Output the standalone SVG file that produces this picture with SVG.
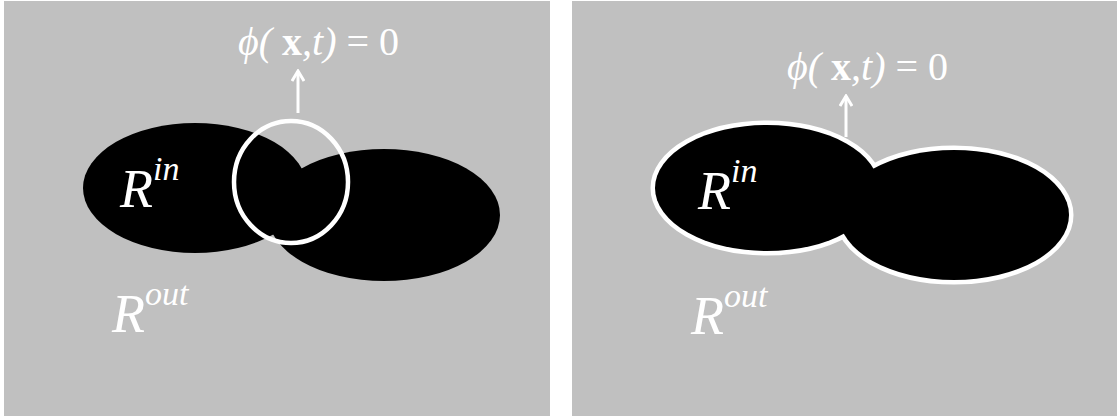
<svg xmlns="http://www.w3.org/2000/svg" width="1118" height="419" viewBox="0 0 1118 419">
<style>
.panel{fill:#c0c0c0}
.blob{fill:#000}
.t{font-family:"Liberation Serif","Times New Roman",serif;fill:#fff}
.it{font-style:italic}
.bf{font-weight:bold}
.arr{stroke:#fff;stroke-width:3;fill:none}
</style>
<defs>
<marker id="ah" markerWidth="14" markerHeight="14" refX="12" refY="7" orient="auto" markerUnits="userSpaceOnUse" viewBox="0 0 14 14">
<path d="M2,1 L12,7 L2,13" fill="none" stroke="#fff" stroke-width="3"/>
</marker>
</defs>
<rect x="0" y="0" width="1118" height="419" fill="#fff"/>
<g id="panel-left">
<rect class="panel" x="4" y="1" width="546" height="415"/>
<ellipse class="blob" cx="195" cy="188" rx="112" ry="65"/>
<ellipse class="blob" cx="384" cy="215" rx="116" ry="66"/>
<ellipse cx="291" cy="182" rx="57" ry="61" fill="none" stroke="#fff" stroke-width="4.5"/>
<text class="t it" x="120" y="207" font-size="54">R<tspan font-size="34" dy="-27">in</tspan></text>
<text class="t it" x="112" y="332" font-size="54">R<tspan font-size="34" dy="-27">out</tspan></text>
<text class="t" x="238" y="55" font-size="40"><tspan class="it">ϕ(</tspan> <tspan class="bf">x</tspan><tspan class="it">,t)</tspan> = 0</text>
</g>
<g id="panel-right">
<rect class="panel" x="572" y="1" width="545" height="415"/>
<g fill="none" stroke="#fff" stroke-width="9">
<ellipse cx="767" cy="188" rx="112" ry="63"/>
<ellipse cx="954" cy="215" rx="115" ry="65"/>
</g>
<ellipse class="blob" cx="767" cy="188" rx="112" ry="63"/>
<ellipse class="blob" cx="954" cy="215" rx="115" ry="65"/>
<text class="t it" x="698" y="209" font-size="54">R<tspan font-size="34" dy="-27">in</tspan></text>
<text class="t it" x="691" y="334" font-size="54">R<tspan font-size="34" dy="-27">out</tspan></text>
<text class="t" x="787" y="80" font-size="40"><tspan class="it">ϕ(</tspan> <tspan class="bf">x</tspan><tspan class="it">,t)</tspan> = 0</text>
</g>
<g id="connectors">
<line class="arr" x1="298" y1="113" x2="298" y2="71" marker-end="url(#ah)"/>
<line class="arr" x1="846" y1="137" x2="846" y2="96" marker-end="url(#ah)"/>
</g>
</svg>
